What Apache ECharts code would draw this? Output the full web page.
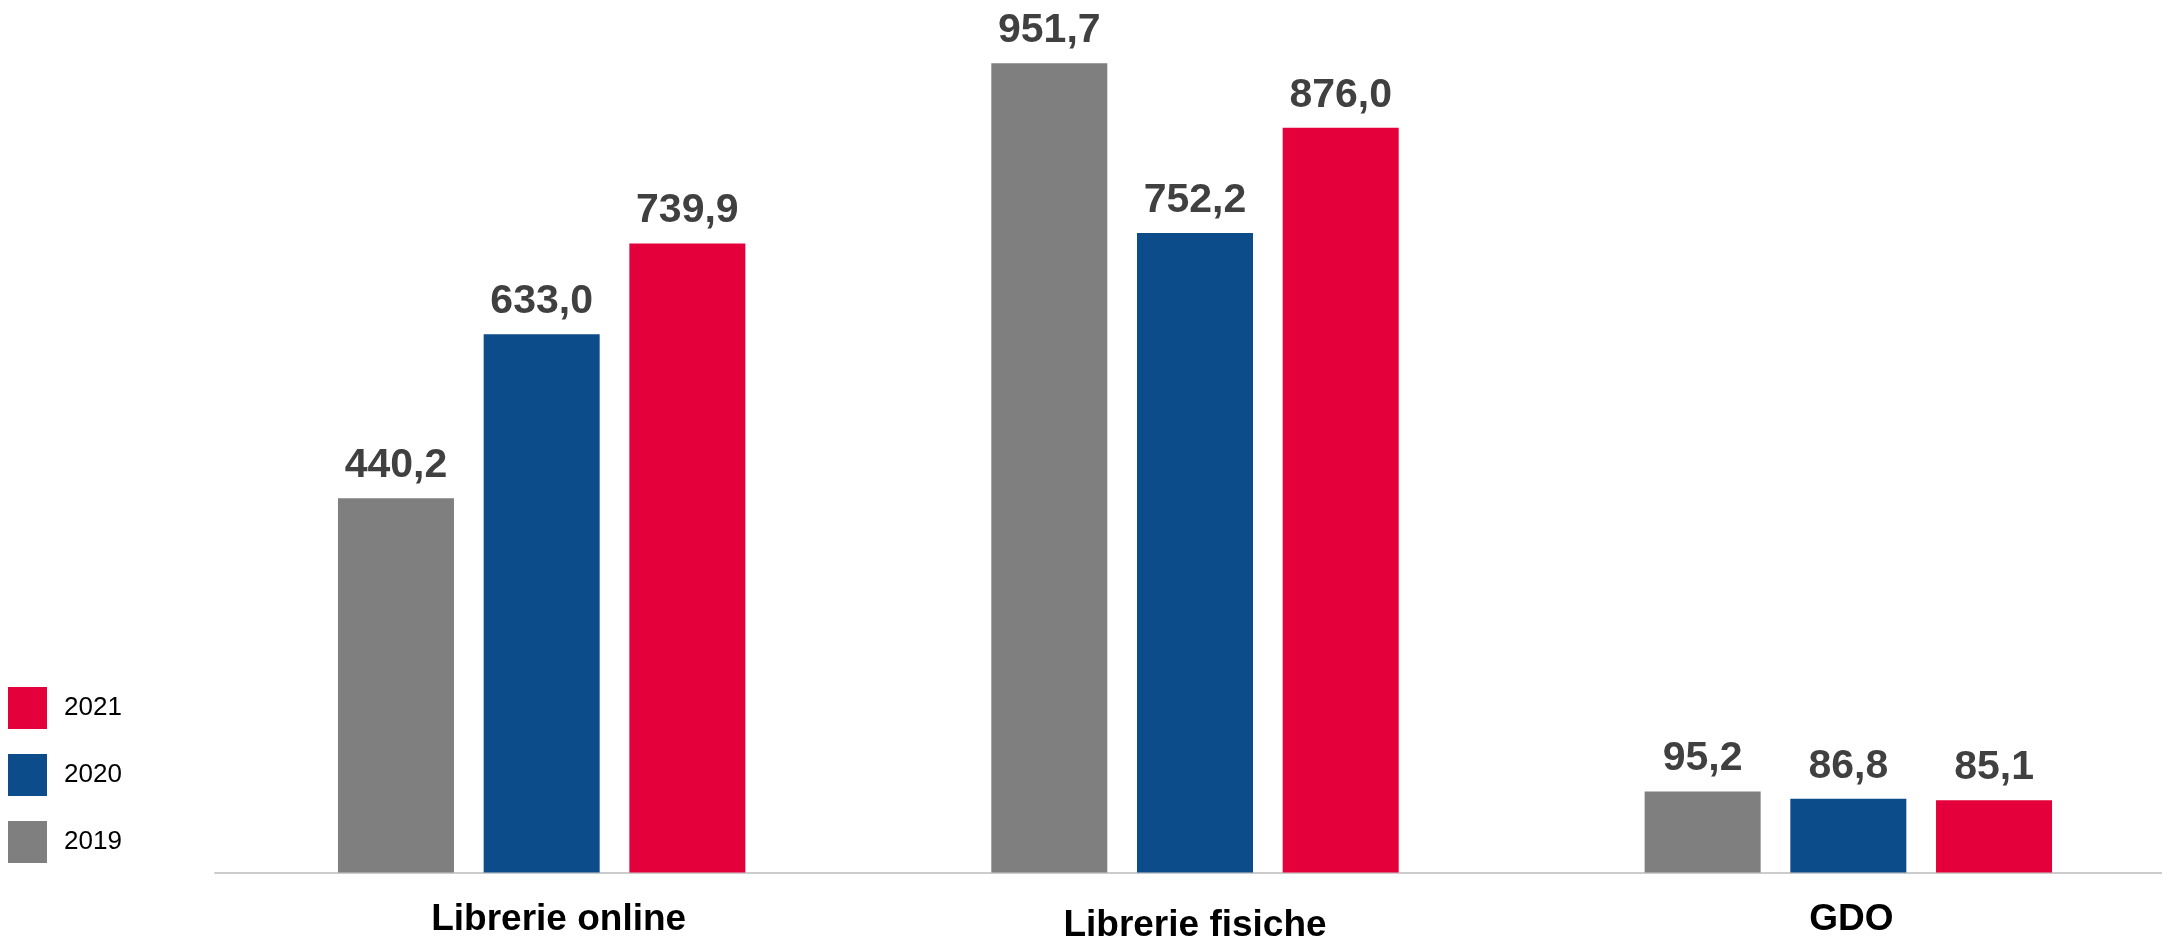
<!DOCTYPE html>
<html>
<head>
<meta charset="utf-8">
<script src="https://cdn.jsdelivr.net/npm/echarts@6/dist/echarts.min.js"></script>
<style>
html,body{margin:0;padding:0;background:#fff;}
#c{width:2162px;height:945px;}
</style>
</head>
<body>
<div id="c"></div>
<script>
var categories = ['Librerie online', 'Librerie fisiche', 'GDO'];
var seriesNames = ['2019', '2020', '2021'];
var values2019 = [440.2, 951.7, 95.2];
var values2020 = [633.0, 752.2, 86.8];
var values2021 = [739.9, 876.0, 85.1];
var colors = ['#7F7F7F', '#0D4C8B', '#E4003B'];

var chart = echarts.init(document.getElementById('c'));
var font = '"Liberation Sans", Arial, sans-serif';
function fmt(p){ return p.value.toFixed(1).replace('.', ','); }
function mk(name, data, color){
  return {
    name: name, type: 'bar', data: data,
    barWidth: 116, barGap: '25.6%',
    itemStyle: {color: color},
    label: {show: true, position: 'top', distance: 12, formatter: fmt,
      color: '#404040', fontSize: 41, fontWeight: 'bold', fontFamily: font},
    emphasis: {disabled: true}
  };
}
var catData = categories.map(function(c, i){
  var o = {value: c};
  if (i === 0) o.textStyle = {padding: [0, 0, 0, 34]};
  if (i === 1) o.textStyle = {padding: [6, 0, 0, 0]};
  if (i === 2) o.textStyle = {padding: [0, 0, 0, 6]};
  return o;
});
chart.setOption({
  animation: false,
  backgroundColor: '#fff',
  grid: {left: 215, width: 1960, top: 22.3, bottom: 72.5, containLabel: false, outerBoundsMode: 'none'},
  legend: {
    orient: 'vertical', left: 8, top: 687, padding: 0,
    data: ['2021', '2020', '2019'],
    itemWidth: 39, itemHeight: 42, itemGap: 25,
    icon: 'rect',
    textStyle: {fontSize: 26, color: '#000', fontFamily: font, padding: [0,0,0,12]},
    selectedMode: false
  },
  xAxis: {
    type: 'category', data: catData,
    axisTick: {show: false},
    axisLine: {show: true, lineStyle: {color: '#CCCCCC', width: 2}},
    axisLabel: {fontSize: 37, fontWeight: 'bold', color: '#000', fontFamily: font, margin: 29}
  },
  yAxis: {type: 'value', min: 0, max: 1000, show: false, splitLine: {show: false}},
  series: [
    mk(seriesNames[0], values2019, colors[0]),
    mk(seriesNames[1], values2020, colors[1]),
    mk(seriesNames[2], values2021, colors[2])
  ]
});
</script>
</body>
</html>
